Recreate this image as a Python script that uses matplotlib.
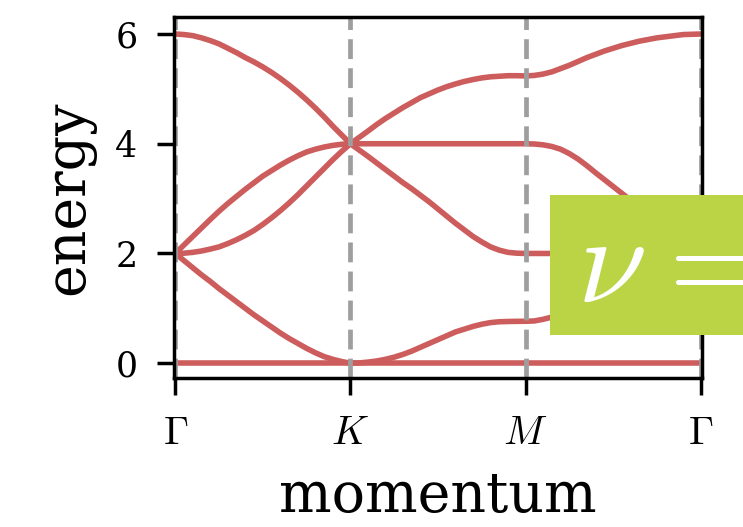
import numpy as np
import matplotlib
matplotlib.use("Agg")
import matplotlib.pyplot as plt
from matplotlib.patches import Rectangle

plt.rcParams["font.family"] = "DejaVu Serif"
plt.rcParams["mathtext.fontset"] = "cm"

# high-symmetry path
kpoint_labels = [r"$\Gamma$", r"$K$", r"$M$", r"$\Gamma$"]
kpoint_pos = [0, 1, 2, 3]
t = np.linspace(0, 1, 21)  # sampling inside each segment

# band energies on each segment (Gamma-K, K-M, M-Gamma), lowest band first
band1_GK = [0.0] * 21
band1_KM = [0.0] * 21
band1_MG = [0.0] * 21

band2_GK = [2.0, 1.87, 1.74, 1.61, 1.49, 1.36, 1.24, 1.12, 1.00, 0.88, 0.77,
            0.66, 0.55, 0.45, 0.36, 0.27, 0.19, 0.12, 0.07, 0.03, 0.0]
band2_KM = [0.0, 0.005, 0.02, 0.04, 0.07, 0.11, 0.16, 0.22, 0.29, 0.36, 0.43,
            0.50, 0.57, 0.62, 0.67, 0.71, 0.74, 0.755, 0.76, 0.763, 0.764]
band2_MG = [0.764, 0.77, 0.80, 0.84, 0.90, 0.97, 1.05, 1.13, 1.22, 1.31, 1.40,
            1.49, 1.57, 1.65, 1.72, 1.79, 1.85, 1.90, 1.95, 1.98, 2.0]

band3_GK = [2.0, 2.005, 2.02, 2.045, 2.08, 2.12, 2.18, 2.25, 2.33, 2.42, 2.53,
            2.65, 2.78, 2.92, 3.07, 3.23, 3.39, 3.55, 3.71, 3.86, 4.0]
band3_KM = [4.0, 3.885, 3.77, 3.65, 3.53, 3.41, 3.29, 3.18, 3.06, 2.94, 2.81,
            2.68, 2.55, 2.43, 2.31, 2.21, 2.12, 2.06, 2.02, 2.005, 2.0]
band3_MG = [2.0] * 21

band4_GK = [2.0, 2.155, 2.31, 2.465, 2.62, 2.77, 2.91, 3.04, 3.17, 3.29, 3.41,
            3.51, 3.61, 3.70, 3.78, 3.85, 3.90, 3.94, 3.97, 3.99, 4.0]
band4_KM = [4.0] * 21
band4_MG = [4.0, 3.995, 3.98, 3.95, 3.90, 3.82, 3.72, 3.60, 3.47, 3.345, 3.22,
            3.095, 2.97, 2.845, 2.72, 2.595, 2.47, 2.35, 2.23, 2.11, 2.0]

band5_GK = [6.0, 5.99, 5.97, 5.93, 5.88, 5.82, 5.74, 5.66, 5.57, 5.49, 5.40,
            5.30, 5.19, 5.07, 4.94, 4.80, 4.65, 4.49, 4.32, 4.16, 4.0]
band5_KM = [4.0, 4.115, 4.23, 4.35, 4.46, 4.56, 4.66, 4.75, 4.84, 4.91, 4.98,
            5.04, 5.09, 5.135, 5.17, 5.20, 5.22, 5.23, 5.24, 5.24, 5.236]
band5_MG = [5.236, 5.245, 5.27, 5.31, 5.37, 5.43, 5.50, 5.57, 5.63, 5.69, 5.74,
            5.79, 5.83, 5.87, 5.90, 5.93, 5.95, 5.97, 5.99, 5.995, 6.0]

bands = [
    (band1_GK, band1_KM, band1_MG),
    (band2_GK, band2_KM, band2_MG),
    (band3_GK, band3_KM, band3_MG),
    (band4_GK, band4_KM, band4_MG),
    (band5_GK, band5_KM, band5_MG),
]

fig = plt.figure(figsize=(7.43, 5.27), dpi=100)
ax = fig.add_axes([173.5 / 743, 1 - 378 / 527, 529 / 743, 361 / 527])

k = np.concatenate([t, 1 + t[1:], 2 + t[1:]])
for seg in bands:
    e = np.concatenate([seg[0], seg[1][1:], seg[2][1:]])
    ax.plot(k, e, color="indianred", lw=4.0, zorder=2)

for p in kpoint_pos:
    ax.axvline(p, color="#9e9e9e", lw=3.4, dashes=(4.2, 1.95), zorder=3)

ax.set_xlim(-0.01, 3.01)
ax.set_ylim(-0.27, 6.31)
ax.set_xticks(kpoint_pos)
ax.set_xticklabels(kpoint_labels)
ax.set_yticks([0, 2, 4, 6])

for s in ax.spines.values():
    s.set_linewidth(2.5)
    s.set_zorder(4)
ax.tick_params(length=12, width=2.5, pad=14)
ax.tick_params(axis="x", labelsize=29, pad=15)
ax.tick_params(axis="y", labelsize=25)

ax.set_xlabel("momentum", fontsize=40, labelpad=12)
ax.set_ylabel("energy", fontsize=40, labelpad=14)

# filling label box
fig.patches.append(Rectangle((550 / 743, 1 - 335 / 527), 0.4, 140 / 527,
                             transform=fig.transFigure, facecolor="#bbd445",
                             edgecolor="none", zorder=5))
fig.text(577 / 743, 1 - 302 / 527, r"$\nu\hspace{0.07}= 1$", color="white",
         fontsize=90, ha="left", va="baseline", zorder=6)

fig.savefig("out.png", dpi=100)
